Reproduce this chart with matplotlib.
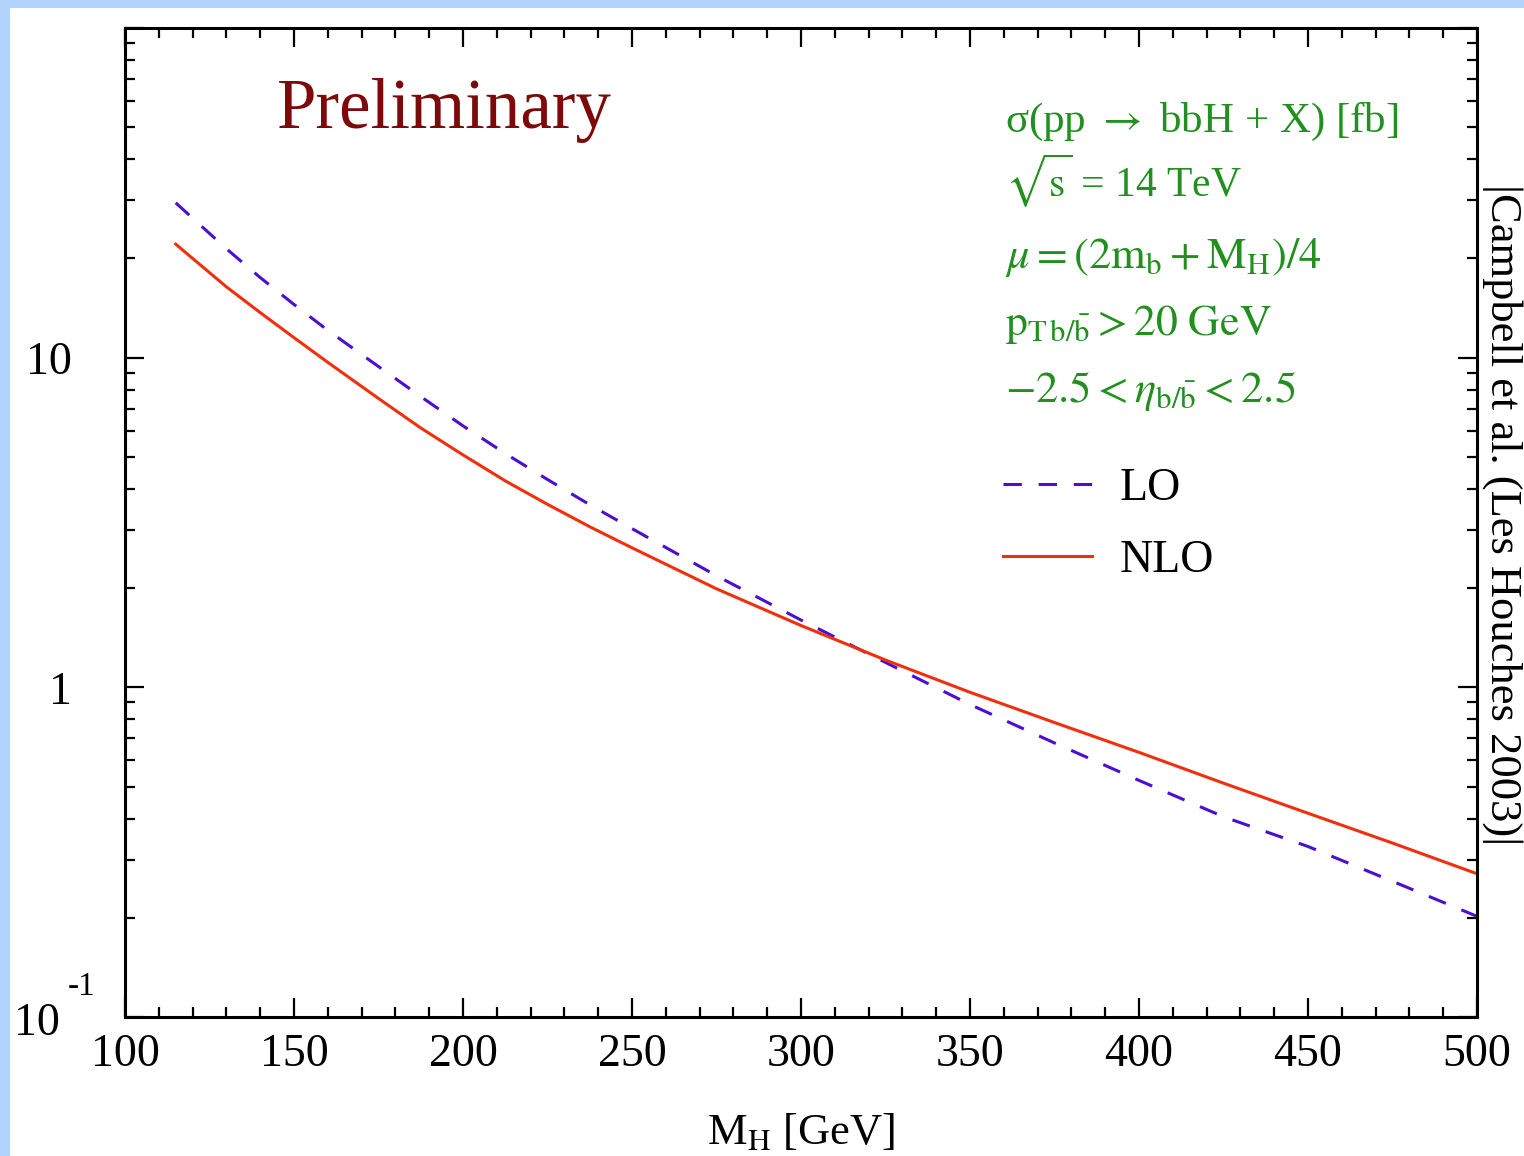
import matplotlib
matplotlib.use('Agg')
import matplotlib.pyplot as plt
import matplotlib.ticker as mticker
from matplotlib.patches import Rectangle

plt.rcParams['font.family'] = ['Liberation Serif', 'DejaVu Serif']
plt.rcParams['mathtext.fontset'] = 'stix'

# Higgs mass [GeV]
mh = [115, 120, 130, 140, 150, 160, 175, 187.5, 200, 212.5, 225, 237.5, 250,
      275, 300, 325, 350, 375, 400, 425, 450, 475, 500]
# cross sections [fb]
sigma_lo = [29.5, 26.5, 21.4, 17.5, 14.5, 12.1, 9.4, 7.62, 6.21, 5.12, 4.27, 3.58, 3.03,
            2.18, 1.60, 1.19, 0.887, 0.678, 0.522, 0.405, 0.329, 0.258, 0.202]
sigma_nlo = [22.1, 20.0, 16.4, 13.7, 11.5, 9.68, 7.52, 6.12, 5.07, 4.23, 3.59, 3.07, 2.65,
             1.99, 1.54, 1.21, 0.966, 0.782, 0.635, 0.512, 0.415, 0.337, 0.272]

yticks = [0.1, 1, 10, 100]
yticklabels = ['', '1', '10', '']
xticks = [100, 150, 200, 250, 300, 350, 400, 450, 500]

W, H = 1524, 1156
fig = plt.figure(figsize=(W/100, H/100), dpi=100)
fig.patch.set_facecolor('#b2d3fb')
fig.patches.append(Rectangle((10/W, 0), 1 - 10/W, 1 - 8/H, transform=fig.transFigure,
                             facecolor='white', edgecolor='none', zorder=-10))

ax = fig.add_axes([125/W, 1 - 1017/H, (1477-125)/W, (1017-28)/H])
ax.set_facecolor('white')

blue = '#4a0fd0'
red = '#f0300c'
ax.plot(mh, sigma_lo, color=blue, lw=2.2, dashes=(6, 5.5), label='LO')
ax.plot(mh, sigma_nlo, color=red, lw=2.2, label='NLO')

ax.set_yscale('log')
ax.set_xlim(100, 500)
ax.set_ylim(0.1, 100)
ax.set_xticks(xticks)
ax.xaxis.set_minor_locator(mticker.MultipleLocator(10))
ax.set_yticks(yticks)
ax.set_yticklabels(yticklabels)
ax.yaxis.set_minor_locator(mticker.LogLocator(base=10, subs=range(2, 10)))
ax.yaxis.set_minor_formatter(mticker.NullFormatter())

ax.tick_params(which='both', direction='in', top=True, right=True, width=1.6, labelsize=33)
ax.tick_params(which='major', length=14)
ax.tick_params(which='minor', length=7.5)
ax.tick_params(axis='x', which='major', pad=12)
ax.tick_params(axis='y', which='major', pad=38)
for s in ax.spines.values():
    s.set_linewidth(2.2)

# the 10^-1 label is split like in the original: "10" with a raised "-1"
ax.annotate('10', xy=(0, 0.1), xycoords=('axes fraction', 'data'),
            xytext=(-47, -13), textcoords='offset points', ha='right', va='baseline', fontsize=33)
ax.annotate('-1', xy=(0, 0.1), xycoords=('axes fraction', 'data'),
            xytext=(-21, 16), textcoords='offset points', ha='right', va='baseline', fontsize=24)

ax.set_xlabel('M$_\\mathrm{H}$ [GeV]', fontsize=32, labelpad=26)

ax.legend(loc='upper left', bbox_to_anchor=(1003/W, 1 - 468/H), bbox_transform=fig.transFigure,
          frameon=False, fontsize=33, handlelength=1.95, handletextpad=0.6,
          labelspacing=0.64, borderpad=0, borderaxespad=0)

fig.text(277/W, 1 - 128/H, 'Preliminary', color='#7d0a0a', fontsize=51, va='baseline', ha='left')

green = '#22901e'
lines = [
    ('σ(pp $\\rightarrow$ bbH + X) [fb]', 132, 31),
    ('$\\sqrt{\\mathrm{s}}$ = 14 TeV', 197, 30),
    ('$\\mu = (\\mathrm{2m_b + M_H})/4$', 268, 32),
    ('$\\mathrm{p}_{\\mathrm{T}\\,\\mathrm{b}/\\bar{\\mathrm{b}}} > \\mathrm{20\\ GeV}$', 335, 31.5),
    ('$-2.5 < \\eta_{\\mathrm{b}/\\bar{\\mathrm{b}}} < 2.5$', 402, 32),
]
for txt, yb, fs in lines:
    fig.text(1005/W, 1 - yb/H, txt, color=green, fontsize=fs, va='baseline', ha='left')

fig.text(1502/W, 1 - 515/H, '|Campbell et al. (Les Houches 2003)|', rotation=270,
         fontsize=32, va='center', ha='center')

fig.savefig('out.png', dpi=100, facecolor=fig.get_facecolor())
